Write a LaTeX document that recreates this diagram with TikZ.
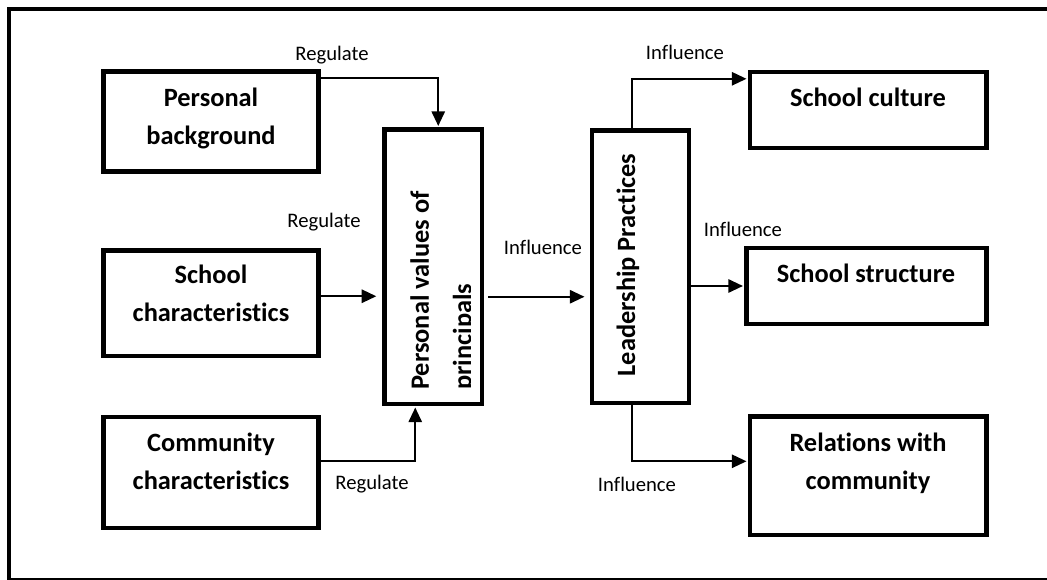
\documentclass[tikz,border=0pt]{standalone}
\usepackage{fontspec}
\setmainfont{Carlito}[Ligatures=NoCommon]
\usetikzlibrary{
  arrows.meta,
  calc,
  fit
}

\begin{document}
\begin{tikzpicture}[x=0.75pt, y=-0.75pt,
  box/.style={draw, line width=3.3pt, inner sep=0pt},
  boxtext/.style={font=\fontsize{19.8}{28.5}\selectfont\bfseries, align=center, inner sep=0pt, anchor=north},
  tag/.style={font=\fontsize{15.5}{18}\selectfont, inner sep=0pt, anchor=base},
  link/.style={line width=1.5pt, -{Triangle[length=11pt, width=10pt]}, shorten >=1pt}]
  \clip (0,0) rectangle (1047,580);
  % Frame
  \draw[line width=2.6pt] (9,9) rectangle (1070,580);

  % Inputs
  \node[box, fit={(103.5,71.5)(318.5,171.5)}] (pb) {};
  \node[box, fit={(103.5,250.5)(318.5,356)}] (sc) {};
  \node[box, fit={(103.5,417)(318.5,528)}] (cc) {};
  \node[boxtext] (pbt) at (211,88) {Personal\\background};
  \node[boxtext] (sct) at (211,265) {School\\characteristics};
  \node[boxtext] (cct) at (211,433) {Community\\characteristics};

  % Middle columns
  \node[box, fit={(384.5,129.5)(482,404)}] (pv) {};
  \node[box, fit={(592,130.5)(689,403)}] (lp) {};
  \begin{scope}
    \clip (387,132) rectangle (470,401);
    \node[boxtext, font=\fontsize{19.8}{32}\selectfont\bfseries, align=left,
      rotate=90, anchor=north west] (pvt) at (410,390) {Personal values of\\principals};
  \end{scope}
  \node[boxtext, rotate=90, anchor=base] (lpt) at (635,265) {Leadership Practices};

  % Outcomes
  \node[box, fit={(750,72)(986.3,148)}] (cul) {};
  \node[box, fit={(746.5,248)(986.3,324)}] (str) {};
  \node[box, fit={(750,416.5)(986.3,535)}] (rel) {};
  \node[boxtext] (cult) at (868,88) {School culture};
  \node[boxtext] (strt) at (866,264) {School structure};
  \node[boxtext] (relt) at (868,433) {Relations with\\community};

  % Connectors
  \coordinate (scout) at ($(sc.east)+(0,-7)$);
  \coordinate (pvout) at ($(pv.east)+(0,30)$);
  \draw[link] ($(pb.north east)+(0,9)$) -| ($(pv.north)+(5,0)$);
  \draw[link, shorten >=4.5pt] (scout) -- (scout -| pv.west);
  \draw[link] ($(cc.north east)+(0,46)$) -| ($(pv.south)+(-18,0)$);
  \draw[link, shorten <=3pt, shorten >=4pt] (pvout) -- (pvout -| lp.west);
  \draw[link] ($(lp.north)+(-9,0)$) |- ($(cul.north west)+(0,9)$);
  \draw[link] (lp.east |- str.west) -- (str.west);
  \draw[link] ($(lp.south)+(-9,0)$) |- ($(rel.north west)+(0,47)$);

  % Labels
  \node[tag] (r1) at (332,61) {Regulate};
  \node[tag] (r2) at (324,228) {Regulate};
  \node[tag] (r3) at (372,490) {Regulate};
  \node[tag] (i1) at (543,255) {Influence};
  \node[tag] (i2) at (685,60) {Influence};
  \node[tag] (i3) at (743,237) {Influence};
  \node[tag] (i4) at (637,492) {Influence};
\end{tikzpicture}
\end{document}
